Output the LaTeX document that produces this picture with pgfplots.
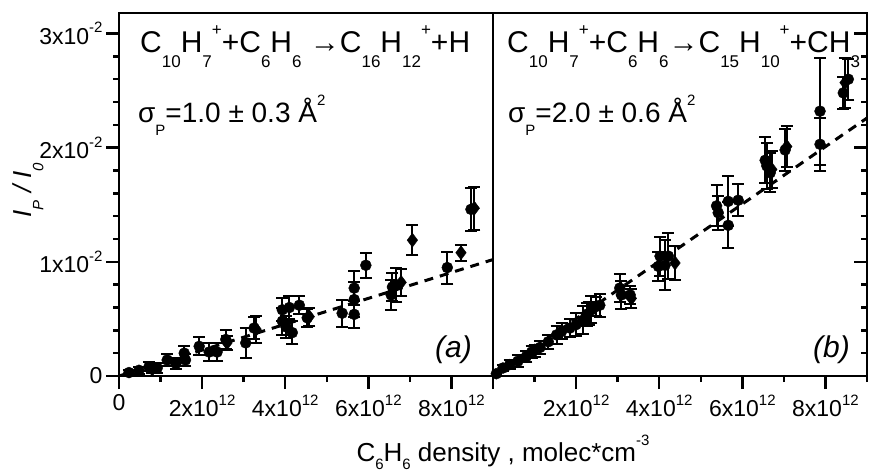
\documentclass[border=0pt]{standalone}
\usepackage{fontspec}
\setmainfont{Liberation Sans}
\usepackage{pgfplots}
\pgfplotsset{compat=1.18}

% raised / lowered small text, sizes in pt (1 px of the reference = 1 pt)
\newcommand{\sbs}[2][17]{\raisebox{-0.47em}{\fontsize{#1}{#1}\selectfont #2}}
\newcommand{\sps}[2][17]{\raisebox{0.58em}{\fontsize{#1}{#1}\selectfont #2}}
\newcommand{\tk}[2]{#1x10\raisebox{0.5em}{\fontsize{15}{15}\selectfont #2}}

\pgfplotsset{
  panel/.style={
    width=374pt, height=363pt, scale only axis,
    xmin=0, xmax=9, ymin=0, ymax=3.18,
    axis line style={line width=2.6pt},
    tick style={line width=2.4pt, black},
    major tick length=13pt, minor tick length=6pt,
    ticklabel style={font=\fontsize{23}{23}\selectfont},
  },
  pts/.style={only marks, black, mark=*, mark size=5.5pt,
    error bars/.cd, y dir=both, y explicit,
    error bar style={line width=2pt},
    error mark options={rotate=90, line width=2pt, mark size=6pt}},
  dia/.style={only marks, black, mark=diamond*, mark size=7pt,
    error bars/.cd, y dir=both, y explicit,
    error bar style={line width=2pt},
    error mark options={rotate=90, line width=2pt, mark size=6pt}},
  fit/.style={line width=3pt, dash pattern=on 9pt off 7pt, black},
}

\begin{document}
\begin{tikzpicture}
\path[use as bounding box] (0,0) rectangle (869pt,475pt);

% ---------- panel (a)
\begin{axis}[panel, at={(119pt,99pt)}, anchor=south west,
  tick pos=left, tick align=outside,
  xtick={0,2,4,6,8}, minor xtick={1,3,5,7,9},
  xticklabels={0,\tk{2}{12},\tk{4}{12},\tk{6}{12},\tk{8}{12}},
  ytick={0,1,2,3}, minor y tick num=4,
  yticklabels={0,\tk{1}{-2},\tk{2}{-2},\tk{3}{-2}},
  xticklabel style={yshift=-2pt}]
\addplot[fit] coordinates {(0,0) (9,1.02)};
\addplot[pts] table[x=x, y=y, y error=e] {
x y e
0.24 0.03 0.02
0.48 0.05 0.03
0.72 0.08 0.04
0.92 0.07 0.04
1.16 0.14 0.05
1.37 0.11 0.05
1.57 0.20 0.06
1.60 0.14 0.05
1.93 0.26 0.08
2.17 0.21 0.08
2.36 0.21 0.08
2.57 0.32 0.08
3.05 0.29 0.13
3.25 0.42 0.10
3.93 0.58 0.10
4.10 0.60 0.10
3.93 0.48 0.12
4.02 0.43 0.10
4.17 0.38 0.10
4.34 0.62 0.08
4.53 0.51 0.08
5.37 0.55 0.12
5.66 0.77 0.15
5.66 0.67 0.15
5.66 0.54 0.12
5.94 0.97 0.11
6.55 0.71 0.13
6.58 0.78 0.12
6.67 0.80 0.15
7.90 0.95 0.14
8.47 1.46 0.19
};
\addplot[dia] table[x=x, y=y, y error=e] {
x y e
0.80 0.06 0.03
2.60 0.29 0.06
3.30 0.41 0.12
4.58 0.52 0.08
6.79 0.82 0.12
7.06 1.19 0.13
8.23 1.08 0.07
8.55 1.47 0.19
};
\end{axis}

% ---------- panel (b), x ticks outside
\begin{axis}[panel, at={(493pt,99pt)}, anchor=south west,
  tick pos=left, tick align=outside,
  xtick={0,2,4,6,8}, minor xtick={1,3,5,7,9},
  xticklabels={,\tk{2}{12},\tk{4}{12},\tk{6}{12},\tk{8}{12}},
  ytick=\empty,
  xticklabel style={yshift=-2pt}]
\addplot[fit] coordinates {(0,0) (9,2.26)};
\addplot[pts] table[x=x, y=y, y error=e] {
x y e
0.08 0.02 0.01
0.24 0.07 0.03
0.40 0.10 0.04
0.60 0.13 0.05
0.80 0.17 0.05
0.93 0.21 0.05
1.13 0.25 0.06
1.33 0.30 0.06
1.53 0.36 0.08
1.65 0.39 0.07
1.85 0.42 0.08
2.00 0.45 0.10
2.17 0.49 0.12
2.25 0.54 0.10
2.37 0.58 0.12
2.49 0.61 0.08
2.57 0.62 0.10
3.05 0.77 0.12
3.09 0.71 0.12
3.30 0.71 0.08
3.98 0.96 0.13
4.02 1.05 0.17
4.14 0.97 0.22
4.22 1.05 0.20
5.38 1.49 0.18
5.42 1.43 0.15
5.66 1.53 0.22
5.66 1.32 0.20
5.90 1.54 0.14
6.55 1.89 0.20
6.59 1.84 0.20
6.67 1.78 0.17
7.03 1.98 0.18
7.87 2.32 0.47
7.87 2.03 0.23
8.43 2.48 0.14
8.55 2.60 0.18
};
\addplot[dia] table[x=x, y=y, y error=e] {
x y e
1.00 0.22 0.05
2.30 0.55 0.10
3.33 0.68 0.08
4.38 0.99 0.15
6.71 1.81 0.16
7.07 2.01 0.18
8.47 2.57 0.22
};
\end{axis}

% ---------- panel (b), y ticks inside on the right
\begin{axis}[panel, at={(493pt,99pt)}, anchor=south west,
  tick pos=right, tick align=inside,
  xtick=\empty, ytick={0,1,2,3}, minor y tick num=4,
  yticklabels={}]
\end{axis}

% ---------- texts
\node[anchor=base west, inner sep=0pt, font=\fontsize{30}{30}\selectfont]
  at (140pt,422pt)
  {C\sbs{10}H\sbs{7}\sps{+}+C\sbs{6}H\sbs{6} →C\sbs{16}H\sbs{12}\sps{+}+H};
\node[anchor=base west, inner sep=0pt, font=\fontsize{28}{28}\selectfont]
  at (138pt,353pt)
  {σ\sbs[15]{P}=1.0 ± 0.3 Å\sps[15]{2}};
\node[anchor=base east, inner sep=0pt, font=\fontsize{30}{30}\selectfont\itshape]
  at (472pt,118pt) {(a)};

\node[anchor=base west, inner sep=0pt, font=\fontsize{30}{30}\selectfont]
  at (507pt,422pt)
  {C\sbs{10}H\sbs{7}\sps{+}+C\sbs{6}H\sbs{6}→C\sbs{15}H\sbs{10}\sps{+}+CH\sbs{3}};
\node[anchor=base west, inner sep=0pt, font=\fontsize{28}{28}\selectfont]
  at (508pt,353pt)
  {σ\sbs[15]{P}=2.0 ± 0.6 Å\sps[15]{2}};
\node[anchor=base east, inner sep=0pt, font=\fontsize{30}{30}\selectfont\itshape]
  at (850pt,118pt) {(b)};

% axis titles
\node[rotate=90, inner sep=0pt, font=\fontsize{26}{26}\selectfont\itshape]
  at (28pt,285pt) {I\sbs[15]{P} / I\sbs[15]{0}};
\node[anchor=base, inner sep=0pt, font=\fontsize{26}{26}\selectfont]
  at (503pt,14pt)
  {C\raisebox{-8pt}{\fontsize{15}{15}\selectfont 6}H\raisebox{-8pt}{\fontsize{15}{15}\selectfont 6} density , molec*cm\sps[15]{-3}};
\end{tikzpicture}
\end{document}
